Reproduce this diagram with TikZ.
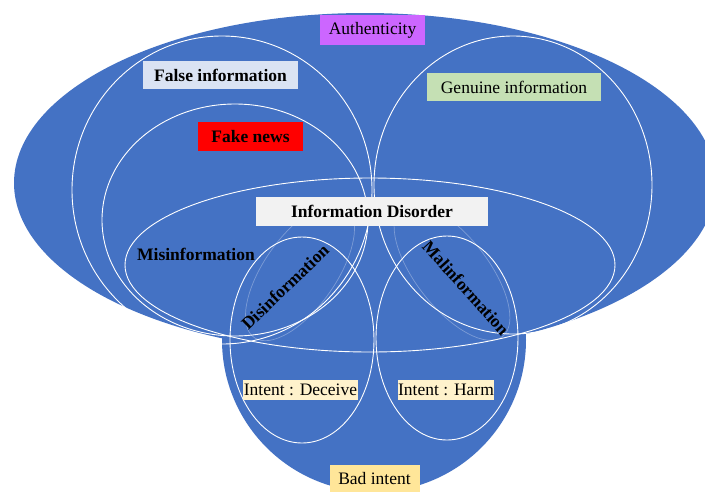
\documentclass[tikz,border=0pt]{standalone}
\usepackage{fontspec}
\setmainfont{Liberation Serif}
\definecolor{infoblue}{RGB}{68,114,196}
\definecolor{authpurple}{RGB}{204,102,255}
\definecolor{falsegray}{RGB}{218,227,243}
\definecolor{genuinegreen}{RGB}{197,224,180}
\definecolor{disordergray}{RGB}{242,242,242}
\definecolor{intentcream}{RGB}{255,242,204}
\definecolor{badyellow}{RGB}{255,230,153}
\begin{document}
\begin{tikzpicture}[x=1pt,y=-1pt,line join=round,line cap=round,font=\fontsize{17.5}{20}\selectfont,
		ring/.style={draw=white,line width=0.9pt},
		faint/.style={draw=white,opacity=0.3,line width=0.7pt},
		tag/.style={inner sep=0pt,text=black}]
			\def \w{705};
			\def \h{491};
			\useasboundingbox (0,0) rectangle (\w,\h);
			\clip (0,0) rectangle (\w,\h);
			% blue areas
			\fill[infoblue] (374,340) circle[radius=152];
			\fill[infoblue] (365,183) ellipse[x radius=351,y radius=170];
			% white rings
			\draw[ring] (222,190) ellipse[x radius=150,y radius=154];
			\draw[ring] (235,220) ellipse[x radius=133,y radius=116];
			\draw[ring] (513,185) ellipse[x radius=139,y radius=149];
			\draw[ring] (370,265) ellipse[x radius=245,y radius=87];
			\draw[ring] (302,340) ellipse[x radius=72,y radius=103];
			\draw[ring] (447,338) ellipse[x radius=71,y radius=102];
			\draw[faint,rotate around={55:(300,272)}] (300,272) ellipse[x radius=80,y radius=36];
			\draw[faint,rotate around={-52:(452,272)}] (452,272) ellipse[x radius=82,y radius=36];
			% labels
			\node[tag,fill=authpurple,minimum width=105,minimum height=30] (auth) at (372.5,30) {Authenticity};
			\node[tag,fill=falsegray,minimum width=155,minimum height=28] (falseinfo) at (220.5,75) {\textbf{False information}};
			\node[tag,fill=red,minimum width=105,minimum height=29] (fakenews) at (250.5,136.5) {\textbf{Fake news}};
			\node[tag,fill=genuinegreen,minimum width=174,minimum height=28] (genuine) at (514,87) {Genuine information};
			\node[tag,fill=disordergray,minimum width=232,minimum height=29] (disorder) at (372,211.5) {\textbf{Information Disorder}};
			\node[tag] (misinfo) at (196,254) {\textbf{Misinformation}};
			\node[tag,rotate=44] (disinfo) at (285,287) {\textbf{Disinformation}};
			\node[tag,rotate=-48] (malinfo) at (466,288) {\textbf{Malinformation}};
			\node[tag,fill=intentcream,minimum width=115,minimum height=20] (deceive) at (300.5,390) {Intent : Deceive};
			\node[tag,fill=intentcream,minimum width=96,minimum height=20] (harm) at (446,390) {Intent : Harm};
			\node[tag,fill=badyellow,minimum width=90,minimum height=28] (badintent) at (374.5,479) {Bad intent};
		\end{tikzpicture}
\end{document}
